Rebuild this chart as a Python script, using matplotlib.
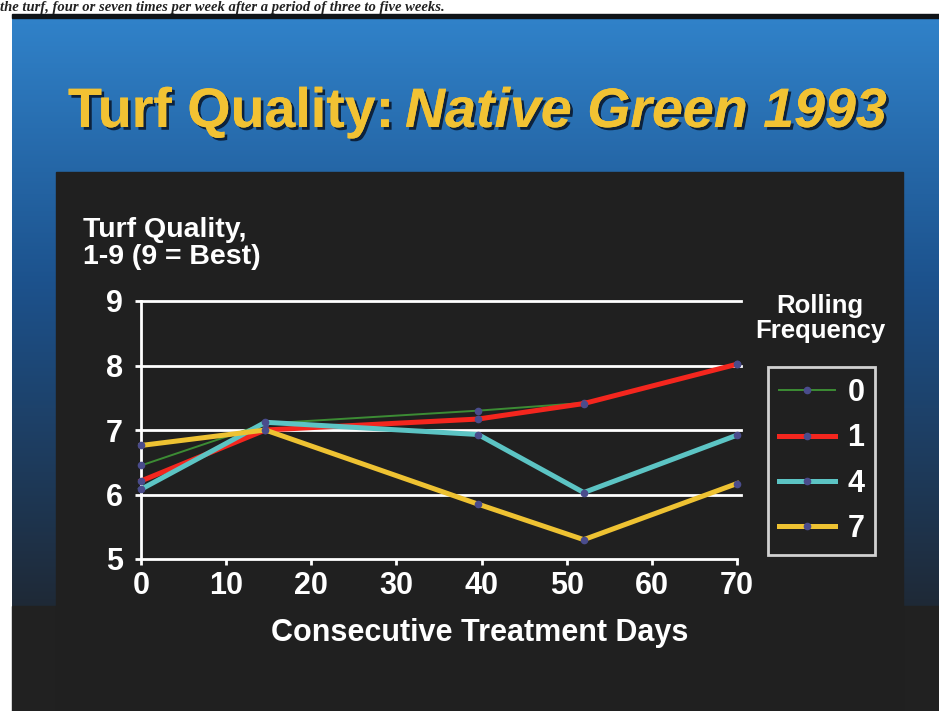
import numpy as np
import matplotlib
matplotlib.use("Agg")
import matplotlib.pyplot as plt
from matplotlib import font_manager
from matplotlib.patches import Rectangle
import matplotlib.patheffects as pe

# ---- data ----
days = [0, 14.6, 39.6, 52, 70]
freq_labels = ["0", "1", "4", "7"]
q_freq0 = [6.45, 7.10, 7.30, 7.42, 8.02]
q_freq1 = [6.21, 7.00, 7.17, 7.41, 8.02]
q_freq4 = [6.08, 7.12, 6.93, 6.03, 6.92]
q_freq7 = [6.76, 7.00, 5.85, 5.30, 6.17]
x_ticks = [0, 10, 20, 30, 40, 50, 60, 70]
y_ticks = [5, 6, 7, 8, 9]

series = [q_freq0, q_freq1, q_freq4, q_freq7]
colors = ["#3c8c34", "#f4261e", "#5cc4c4", "#eec232"]
widths = [1.4, 3.6, 3.6, 3.6]

def has_font(name):
    try:
        font_manager.findfont(font_manager.FontProperties(family=name), fallback_to_default=False)
        return True
    except Exception:
        return False

narrow = "Liberation Sans Narrow" if has_font("Liberation Sans Narrow") else "Liberation Sans"
SANS = "Liberation Sans"

W, H = 939, 711
fig = plt.figure(figsize=(W / 100, H / 100), dpi=100)
fig.patch.set_facecolor("white")

# background axes in pixel coordinates
bg = fig.add_axes([0, 0, 1, 1])
bg.set_xlim(0, W)
bg.set_ylim(H, 0)
bg.axis("off")

# slide gradient
ny = 200
t = np.linspace(0, 1, ny)[:, None]
top = np.array([0.19, 0.51, 0.79])
mid = np.array([0.11, 0.32, 0.55])
bot = np.array([0.12, 0.16, 0.21])
grad = np.where(t < 0.45,
                top + (mid - top) * (t / 0.45),
                mid + (bot - mid) * ((t - 0.45) / 0.55))
img = np.repeat(grad[:, None, :], 2, axis=1)
bg.imshow(img, extent=(12, W, 610, 17), aspect="auto", zorder=1, interpolation="bilinear")
bg.add_patch(Rectangle((12, 14), W - 12, 4, color="#101418", zorder=1.5))
bg.add_patch(Rectangle((12, 606), W - 12, H - 606, color="#212121", zorder=2))
bg.add_patch(Rectangle((56, 172), 847, H - 172, color="#202020", zorder=3))

# caption line at the top of the page
fig.text(0.0, 1 - 11 / H, "the turf, four or seven times per week after a period of three to five weeks.",
         fontsize=10.5, family="Liberation Serif", style="italic", fontweight="bold",
         color="#222222", va="baseline", ha="left")

# title
shadow = [pe.withSimplePatchShadow(offset=(2, -2), shadow_rgbFace="#0a1a30", alpha=0.9), pe.Normal()]
fig.text(68 / W, 1 - 127 / H, "Turf Quality:", fontsize=40, family=narrow, fontweight="bold",
         color="#f2c233", va="baseline", ha="left", path_effects=shadow)
fig.text(405 / W, 1 - 127 / H, "Native Green 1993", fontsize=40, family=narrow, fontweight="bold",
         style="italic", color="#f2c233", va="baseline", ha="left", path_effects=shadow)

# main plot axes
x0p, x1p, y9p, y5p = 141, 737, 301, 559
ax = fig.add_axes([x0p / W, 1 - y5p / H, (x1p - x0p) / W, (y5p - y9p) / H])
ax.set_facecolor("none")
ax.set_xlim(0, 70)
ax.set_ylim(5, 9)
for s in ["top", "right"]:
    ax.spines[s].set_visible(False)
for s in ["left", "bottom"]:
    ax.spines[s].set_color("white")
    ax.spines[s].set_linewidth(2)
for y in y_ticks[1:]:
    ax.axhline(y, xmin=0, xmax=1.007, color="white", lw=2, clip_on=False, zorder=1)
ax.set_xticks(x_ticks)
ax.set_yticks(y_ticks)
ax.tick_params(axis="both", colors="white", width=2, length=4, labelsize=22, direction="out")
ax.tick_params(axis="x", pad=5)
ax.tick_params(axis="y", pad=9)
for lab in ax.get_xticklabels() + ax.get_yticklabels():
    lab.set_fontfamily(SANS)
    lab.set_fontweight("bold")

handles = []
for vals, c, lw, lab in zip(series, colors, widths, freq_labels):
    ln, = ax.plot(days, vals, color=c, lw=lw, marker="o", markersize=4.5,
                  markerfacecolor="#4a4c8c", markeredgecolor="#4a4c8c", zorder=3, clip_on=False)
    handles.append(ln)

ax.set_xlabel("Consecutive Treatment Days", color="white", fontsize=22, family=SANS,
              fontweight="bold")
ax.xaxis.set_label_coords((480 - x0p) / (x1p - x0p), -(633 - y5p) / (y5p - y9p))
ax.xaxis.label.set_va("center")

fig.text(83 / W, 1 - 217 / H, "Turf Quality,\n1-9 (9 = Best)", color="white", fontsize=20.5,
         family=SANS, fontweight="bold", va="top", ha="left", linespacing=1.05)

fig.text(820 / W, 1 - 294 / H, "Rolling\nFrequency", color="white", fontsize=18.5,
         family=SANS, fontweight="bold", va="top", ha="center", linespacing=1.05)

leg = fig.legend(handles, freq_labels, loc="center", bbox_to_anchor=(821.5 / W, 1 - 461 / H),
                 frameon=True, fancybox=False, edgecolor="white", facecolor="none",
                 prop={"family": SANS, "weight": "bold", "size": 22}, labelcolor="white",
                 handlelength=1.85, labelspacing=0.5, handletextpad=0.4, borderpad=0.35,
                 borderaxespad=0)
leg.get_frame().set_linewidth(2)

fig.savefig("out.png", dpi=100, facecolor=fig.get_facecolor())
